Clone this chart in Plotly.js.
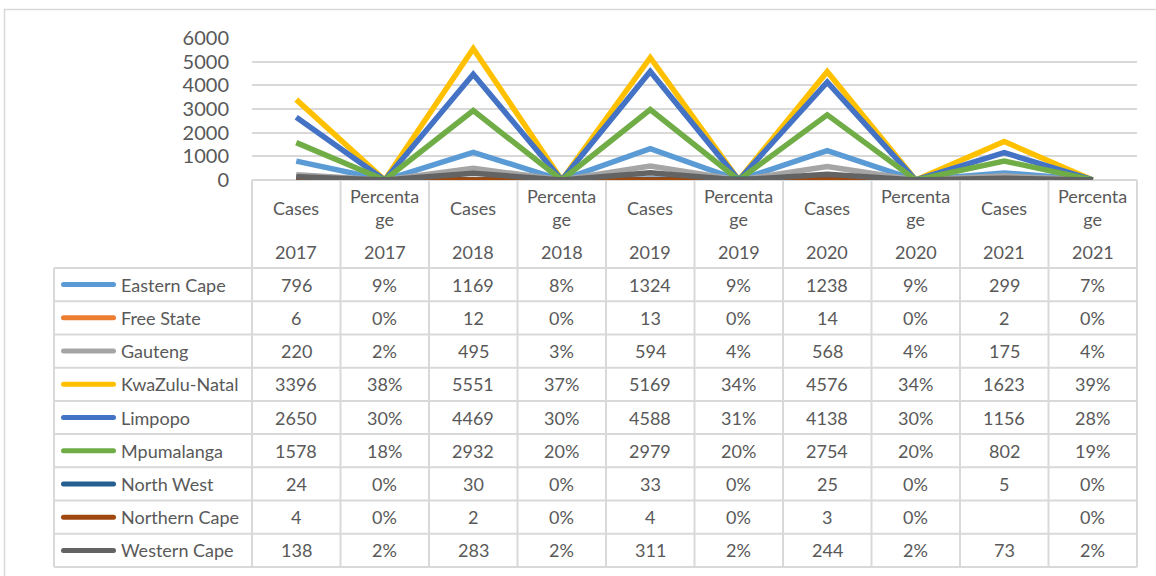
<!DOCTYPE html>
<html>
<head>
<meta charset="utf-8">
<script src="https://cdn.plot.ly/plotly-3.0.1.min.js"></script>
<style>
html,body{margin:0;padding:0;background:#fff;}
#chart{width:1156px;height:576px;}
</style>
</head>
<body>
<div id="chart"></div>
<script>
// ---------------- DATA ----------------
const years = ["2017", "2018", "2019", "2020", "2021"];
const measures = ["Cases", "Percentage"];
const measureHeaders = ["Cases", "Percenta<br>ge"];
const regions = ["Eastern Cape", "Free State", "Gauteng", "KwaZulu-Natal", "Limpopo",
                 "Mpumalanga", "North West", "Northern Cape", "Western Cape"];
const colors = ["#5B9BD5", "#ED7D31", "#A5A5A5", "#FFC000", "#4472C4",
                "#70AD47", "#255E91", "#9E480E", "#636363"];

const easternCapeCases   = [796, 1169, 1324, 1238, 299];
const easternCapePct     = [9, 8, 9, 9, 7];
const freeStateCases     = [6, 12, 13, 14, 2];
const freeStatePct       = [0, 0, 0, 0, 0];
const gautengCases       = [220, 495, 594, 568, 175];
const gautengPct         = [2, 3, 4, 4, 4];
const kwazuluNatalCases  = [3396, 5551, 5169, 4576, 1623];
const kwazuluNatalPct    = [38, 37, 34, 34, 39];
const limpopoCases       = [2650, 4469, 4588, 4138, 1156];
const limpopoPct         = [30, 30, 31, 30, 28];
const mpumalangaCases    = [1578, 2932, 2979, 2754, 802];
const mpumalangaPct      = [18, 20, 20, 20, 19];
const northWestCases     = [24, 30, 33, 25, 5];
const northWestPct       = [0, 0, 0, 0, 0];
const northernCapeCases  = [4, 2, 4, 3, null];
const northernCapePct    = [0, 0, 0, 0, 0];
const westernCapeCases   = [138, 283, 311, 244, 73];
const westernCapePct     = [2, 2, 2, 2, 2];

const casesByRegion = [easternCapeCases, freeStateCases, gautengCases, kwazuluNatalCases,
  limpopoCases, mpumalangaCases, northWestCases, northernCapeCases, westernCapeCases];
const pctByRegion = [easternCapePct, freeStatePct, gautengPct, kwazuluNatalPct,
  limpopoPct, mpumalangaPct, northWestPct, northernCapePct, westernCapePct];

const yTicks = [0, 1000, 2000, 3000, 4000, 5000, 6000];

// ---------------- BUILD ----------------
const categories = [];
years.forEach(y => measures.forEach(m => categories.push(m + " " + y)));

const FONT = "Lato, 'Open Sans', 'Noto Sans', sans-serif";
const TXT = "#595959";
const GRID = "#d9d9d9";
const FS = 18;

const W = 1156, H = 576;
const L = 252, R = 19, T = 38, B = 396;
const PW = W - L - R, PH = H - T - B;
const px = v => (v - L) / PW;
const py = v => (H - B - v) / PH;

const traces = regions.map((r, i) => {
  const yv = [];
  years.forEach((yr, k) => {
    yv.push(casesByRegion[i][k]);
    yv.push(pctByRegion[i][k] / 100);
  });
  return {
    type: "scatter", mode: "lines", name: r,
    x: categories, y: yv,
    line: {color: colors[i], width: 5.5},
    connectgaps: false, hoverinfo: "skip", showlegend: false
  };
});

const shapes = [];
const annotations = [];
const nCols = categories.length;
const colEdge = i => i / nCols;
const colMid = i => (i + 0.5) / nCols;

const headerTop = 180, headerBottom = 268, tableBottom = 567, legendLeft = 54;
const rowH = (tableBottom - headerBottom) / regions.length;
const lineStyle = {color: GRID, width: 2};

shapes.push({type: "line", xref: "paper", yref: "paper", x0: 0, x1: 1,
  y0: py(headerTop), y1: py(headerTop), line: lineStyle, layer: "below"});
for (let k = 0; k <= regions.length; k++) {
  const yy = headerBottom + k * rowH;
  shapes.push({type: "line", xref: "paper", yref: "paper", x0: px(legendLeft), x1: 1,
    y0: py(yy), y1: py(yy), line: lineStyle});
}
for (let i = 0; i <= nCols; i++) {
  shapes.push({type: "line", xref: "paper", yref: "paper", x0: colEdge(i), x1: colEdge(i),
    y0: py(headerTop), y1: py(tableBottom), line: lineStyle});
}
shapes.push({type: "line", xref: "paper", yref: "paper", x0: px(legendLeft), x1: px(legendLeft),
  y0: py(headerBottom), y1: py(tableBottom), line: lineStyle});

shapes.push({type: "rect", xref: "paper", yref: "paper", x0: px(4.5), x1: px(1165),
  y0: py(9.5), y1: py(590), line: {color: "#d9d9d9", width: 1.5}, fillcolor: "rgba(0,0,0,0)"});

categories.forEach((c, i) => {
  const mIdx = i % 2, yIdx = Math.floor(i / 2);
  annotations.push({xref: "paper", yref: "paper", x: colMid(i), y: py(207.5),
    text: measureHeaders[mIdx], showarrow: false, xanchor: "center", yanchor: "middle",
    font: {family: FONT, size: FS, color: TXT}});
  annotations.push({xref: "paper", yref: "paper", x: colMid(i), y: py(252),
    text: years[yIdx], showarrow: false, xanchor: "center", yanchor: "middle",
    font: {family: FONT, size: FS, color: TXT}});
});

regions.forEach((r, ri) => {
  const yc = headerBottom + (ri + 0.5) * rowH;
  const x0 = px(63.5), x1 = px(113.5), rx = 2.5 / PW, ry = 2.5 / PH;
  const yt = py(yc) + ry, yb = py(yc) - ry, ym = py(yc);
  shapes.push({type: "path", xref: "paper", yref: "paper",
    path: `M${x0},${yt} L${x1},${yt} Q${x1 + rx},${yt} ${x1 + rx},${ym} Q${x1 + rx},${yb} ${x1},${yb} L${x0},${yb} Q${x0 - rx},${yb} ${x0 - rx},${ym} Q${x0 - rx},${yt} ${x0},${yt} Z`,
    fillcolor: colors[ri], line: {width: 0}});
  annotations.push({xref: "paper", yref: "paper", x: px(119), y: py(yc), text: r,
    showarrow: false, xanchor: "left", yanchor: "middle",
    font: {family: FONT, size: FS, color: TXT}});
  years.forEach((yr, k) => {
    const cv = casesByRegion[ri][k];
    annotations.push({xref: "paper", yref: "paper", x: colMid(2 * k), y: py(yc),
      text: cv === null ? "" : String(cv), showarrow: false, xanchor: "center", yanchor: "middle",
      font: {family: FONT, size: FS, color: TXT}});
    annotations.push({xref: "paper", yref: "paper", x: colMid(2 * k + 1), y: py(yc),
      text: pctByRegion[ri][k] + "%", showarrow: false, xanchor: "center", yanchor: "middle",
      font: {family: FONT, size: FS, color: TXT}});
  });
});

const layout = {
  width: W, height: H,
  margin: {l: L, r: R, t: T, b: B, pad: 0},
  paper_bgcolor: "#ffffff", plot_bgcolor: "#ffffff",
  showlegend: false, hovermode: false,
  xaxis: {type: "category", range: [-0.5, nCols - 0.5], showticklabels: false,
    showgrid: false, zeroline: false, showline: false, ticks: "", fixedrange: true},
  yaxis: {range: [0, 6000], tickvals: yTicks, ticktext: yTicks.map(String),
    showgrid: true, gridcolor: GRID, gridwidth: 2, zeroline: false, showline: false,
    ticks: "", ticklabelstandoff: 22,
    tickfont: {family: FONT, size: 20, color: TXT}, fixedrange: true},
  shapes: shapes,
  annotations: annotations
};

Plotly.newPlot("chart", traces, layout, {displayModeBar: false, staticPlot: true});
</script>
</body>
</html>
